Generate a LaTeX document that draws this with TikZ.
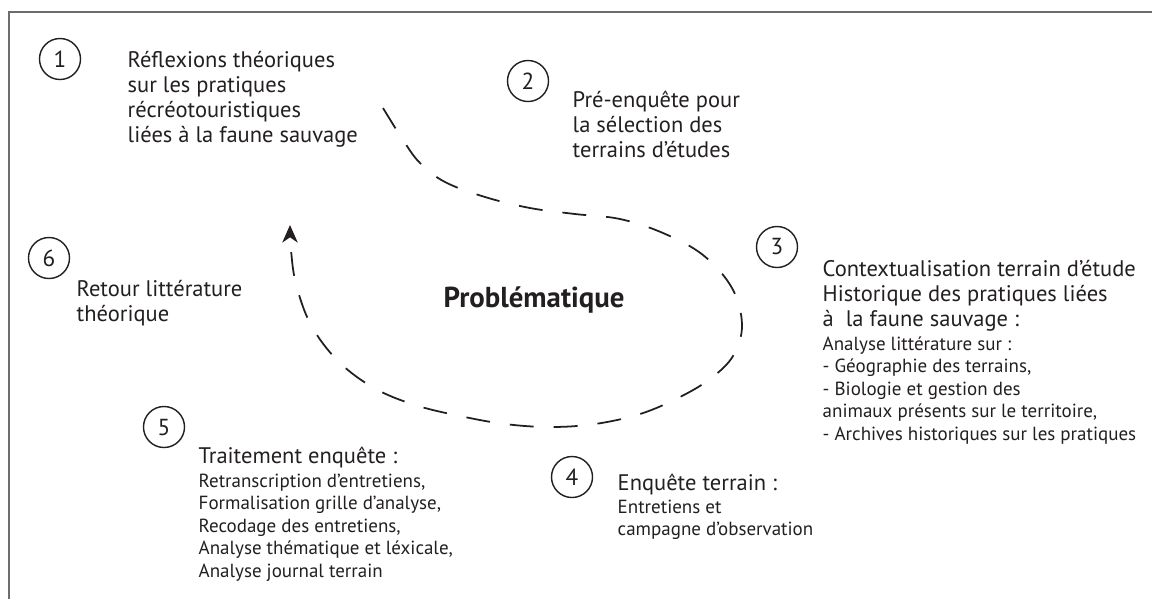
\documentclass[tikz,border=0pt]{standalone}
\usepackage{fontspec}
\setmainfont{PT Sans}
\usetikzlibrary{arrows.meta}
\definecolor{ink}{HTML}{231F20}
\definecolor{framegray}{HTML}{6D6D6D}

\begin{document}
\begin{tikzpicture}[x=0.01cm,y=-0.01cm,
    num/.style={draw=ink,circle,minimum size=0.41cm,inner sep=0pt,line width=0.4pt,text=ink,font=\fontsize{6.6}{7.1}\selectfont},
    textbig/.style={anchor=north west,inner sep=0pt,align=left,text=ink,font=\fontsize{6.4}{7.1}\selectfont},
    textsmall/.style={anchor=north west,inner sep=0pt,align=left,text=ink,font=\fontsize{5.4}{6.4}\selectfont},
    cycleline/.style={ink,line width=0.5pt,dash pattern=on 6.8pt off 5.7pt}]
  \useasboundingbox (0,0) rectangle (1152,599);
  \draw[framegray,line width=0.6pt] (1152,12) -- (9,12) -- (9,599);

  % steps
  \node[num] (n1) at (60,59) {1};
  \node[textbig] (t1) at (127,51) {Réflexions théoriques\\sur les pratiques\\récréotouristiques\\liées à la faune sauvage};
  \node[num] (n2) at (528,81) {2};
  \node[textbig] (t2) at (572,90) {Pré-enquête pour\\la sélection des\\terrains d’études};
  \node[num] (n3) at (777,247) {3};
  \node[textbig] (t3) at (822,260) {Contextualisation terrain d’étude\\Historique des pratiques liées\\à \ la faune sauvage :};
  \node[textsmall] (t3b) at (822,336) {Analyse littérature sur :\\- Géographie des terrains,\\- Biologie et gestion des\\animaux présents sur le territoire,\\- Archives historiques sur les pratiques};
  \node[num] (n4) at (572,477) {4};
  \node[textbig] (t4) at (617,473) {Enquête terrain :};
  \node[textsmall] (t4b) at (617,499) {Entretiens et\\campagne d’observation};
  \node[num] (n5) at (164,427) {5};
  \node[textbig] (t5) at (198,446) {Traitement enquête :};
  \node[textsmall] (t5b) at (198,473) {Retranscription d’entretiens,\\Formalisation grille d’analyse,\\Recodage des entretiens,\\Analyse thématique et léxicale,\\Analyse journal terrain};
  \node[num] (n6) at (49,258) {6};
  \node[textbig] (t6) at (76,280) {Retour littérature\\théorique};

  \node[anchor=base,inner sep=0pt,text=ink,font=\fontsize{8.2}{9.5}\selectfont\bfseries] (prob) at (534,307) {Problématique};

  % research cycle
  \coordinate (start) at (383,108);
  \coordinate (back) at (290,225);
  \draw[cycleline,-{Stealth[length=5pt,width=4.4pt,inset=1.5pt]}] plot[smooth,tension=0.6] coordinates {(start) (403,140) (420,163) (445,182) (485,197) (530,208) (575,214) (620,219) (663,233) (703,255) (732,288) (742,325) (733,356) (710,379) (678,398) (640,414) (595,424) (550,427) (505,424) (460,416) (415,405) (374,388) (338,361) (311,325) (296,284) (291,250) (back)};
\end{tikzpicture}
\end{document}
